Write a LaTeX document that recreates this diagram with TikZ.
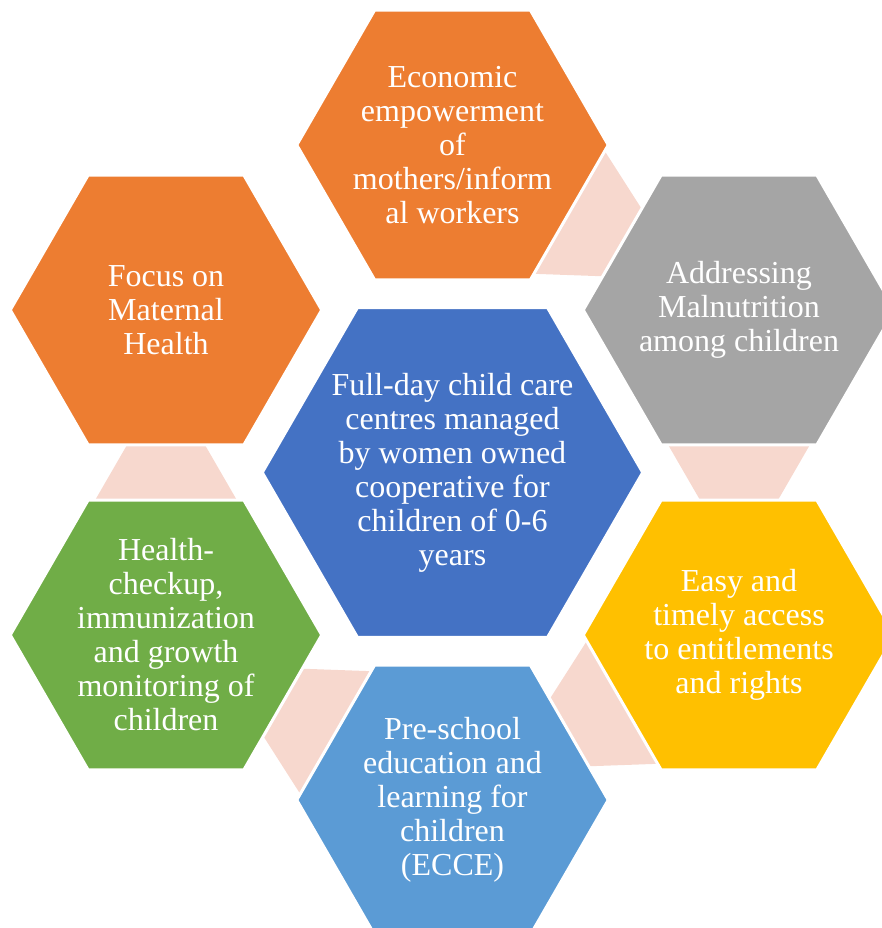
\documentclass[tikz,border=0pt]{standalone}
\usepackage{fontspec}
\setmainfont{Liberation Serif}
\usepackage{xcolor}
\usepackage{tikz}
\usetikzlibrary{shapes.geometric,calc,backgrounds}
\definecolor{hexorange}{HTML}{ED7D31}
\definecolor{hexgray}{HTML}{A5A5A5}
\definecolor{hexyellow}{HTML}{FFC000}
\definecolor{hexblue}{HTML}{4472C4}
\definecolor{hexsky}{HTML}{5B9BD5}
\definecolor{hexgreen}{HTML}{70AD47}
\definecolor{hexpeach}{HTML}{F7D8CE}

\begin{document}
\begin{tikzpicture}[x=1pt,y=1pt,
		hex/.style={regular polygon,regular polygon sides=6,minimum size=311.5pt,inner sep=0pt,outer sep=0pt,draw=white,line width=3pt},
		hextext/.style={text=white,align=center,inner sep=0pt,font=\fontsize{32}{34}\selectfont},
		link/.style={fill=hexpeach}]
		\useasboundingbox (-452.5,-455.5) rectangle (429.5,472.5);

		% centre and the six hexagons round it
		\node[hex,fill=hexblue,minimum size=380.5pt,label={[hextext]center:{Full-day child care\\centres managed\\by women owned\\cooperative for\\children of 0-6\\years}}] (core) at (0,0) {};
		\node[hex,fill=hexorange,label={[hextext]center:{Economic\\empowerment\\of\\mothers/inform\\al workers}}] (econ) at (0,327.5) {};
		\node[hex,fill=hexorange,label={[hextext]center:{Focus on\\Maternal\\Health}}] (focus) at (-286.5,162.5) {};
		\node[hex,fill=hexgray,label={[hextext]center:{Addressing\\Malnutrition\\among children}}] (nutri) at (286.5,162.5) {};
		\node[hex,fill=hexgreen,label={[hextext]center:{Health-\\checkup,\\immunization\\and growth\\monitoring of\\children}}] (health) at (-286.5,-162.5) {};
		\node[hex,fill=hexyellow,label={[hextext]center:{Easy and\\timely access\\to entitlements\\and rights}}] (access) at (286.5,-162.5) {};
		\node[hex,fill=hexsky,label={[hextext]center:{Pre-school\\education and\\learning for\\children\\(ECCE)}}] (ecce) at (0,-327.5) {};

		% links in the gaps, behind the hexagons
		\begin{pgfonlayer}{background}
		\fill[link] ($(econ.300)!0.045!(econ.0)$) -- ($(econ.300)!0.955!(econ.0)$) -- ($(nutri.180)!0.75!(nutri.120)$) -- ($(nutri.180)!0.25!(nutri.120)$) -- cycle;
		\fill[link] ($(health.120)!0.045!(health.60)$) -- ($(health.120)!0.955!(health.60)$) -- ($(focus.240)!0.75!(focus.300)$) -- ($(focus.240)!0.25!(focus.300)$) -- cycle;
		\fill[link] ($(nutri.240)!0.045!(nutri.300)$) -- ($(nutri.240)!0.955!(nutri.300)$) -- ($(access.120)!0.75!(access.60)$) -- ($(access.120)!0.25!(access.60)$) -- cycle;
		\fill[link] ($(ecce.180)!0.045!(ecce.120)$) -- ($(ecce.180)!0.955!(ecce.120)$) -- ($(health.300)!0.75!(health.0)$) -- ($(health.300)!0.25!(health.0)$) -- cycle;
		\fill[link] ($(access.180)!0.045!(access.240)$) -- ($(access.180)!0.955!(access.240)$) -- ($(ecce.60)!0.75!(ecce.0)$) -- ($(ecce.60)!0.25!(ecce.0)$) -- cycle;
		\end{pgfonlayer}
\end{tikzpicture}
\end{document}
